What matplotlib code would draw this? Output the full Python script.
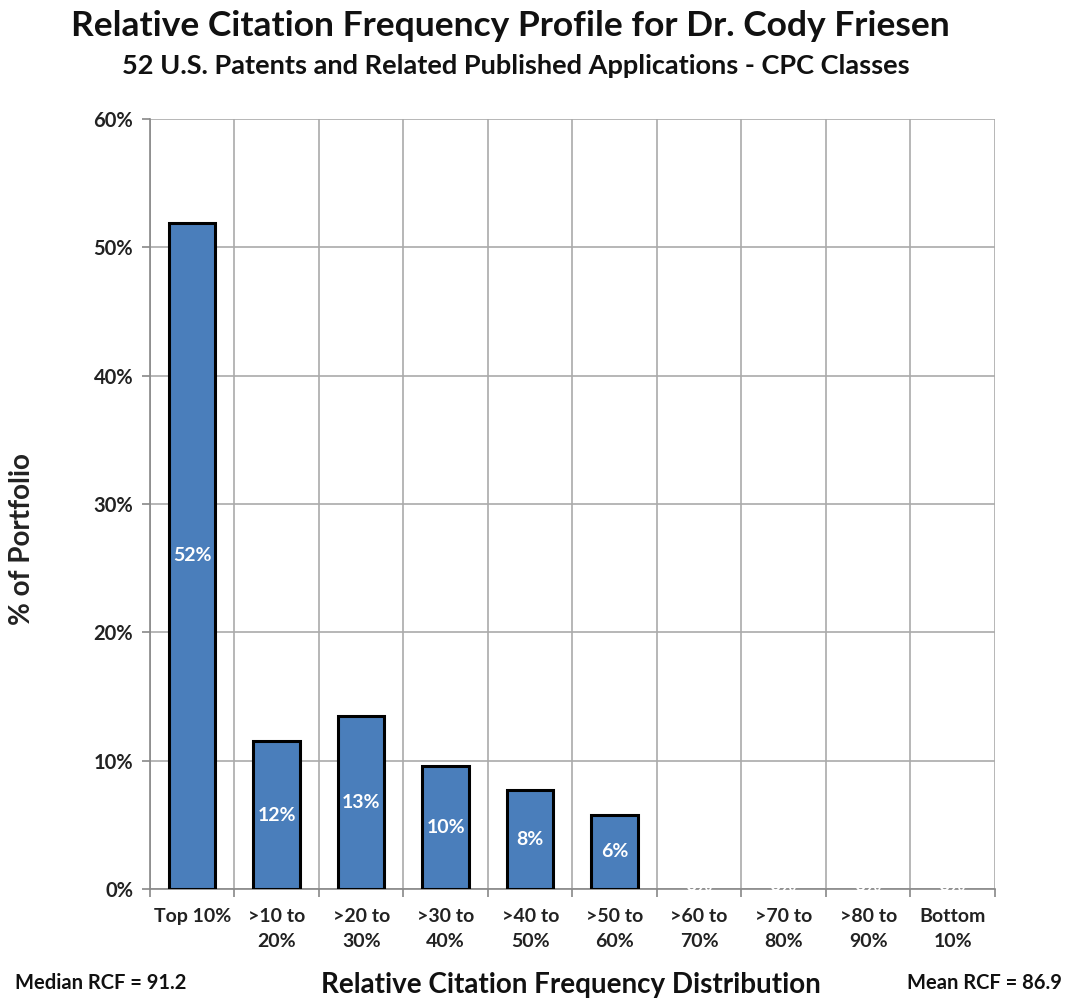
import matplotlib
matplotlib.use("Agg")
import matplotlib.pyplot as plt
from matplotlib.ticker import FuncFormatter

categories = ["Top 10%", ">10 to\n20%", ">20 to\n30%", ">30 to\n40%", ">40 to\n50%",
              ">50 to\n60%", ">60 to\n70%", ">70 to\n80%", ">80 to\n90%", "Bottom\n10%"]
values = [51.9, 11.5, 13.5, 9.6, 7.7, 5.8, 0, 0, 0, 0]
labels = ["52%", "12%", "13%", "10%", "8%", "6%", "0%", "0%", "0%", "0%"]
yticks = [0, 10, 20, 30, 40, 50, 60]

plt.rcParams['font.family'] = ['Lato', 'DejaVu Sans']
fig = plt.figure(figsize=(10.75, 10), dpi=100)
ax = fig.add_axes([0.1395, 0.111, 0.786, 0.770])

x = list(range(len(categories)))
edge_w = [2.2 if v > 0 else 0 for v in values]
bars = ax.bar(x, values, width=0.55, color="#4a7ebb", edgecolor="black", linewidth=edge_w, zorder=3)
for xi, v, lab in zip(x, values, labels):
    ax.text(xi, v / 2 if v > 0 else 0.3, lab, ha="center", va="center", color="white",
            fontsize=14, fontweight="bold", zorder=4)

ax.set_xlim(-0.5, len(categories) - 0.5)
ax.set_ylim(0, 60)
ax.set_yticks(yticks)
ax.yaxis.set_major_formatter(FuncFormatter(lambda v, p: f"{v:.0f}%"))
ax.set_xticks([i - 0.5 for i in range(len(categories) + 1)], minor=False)
ax.set_xticklabels([])
ax.set_xticks(x, minor=True)
ax.set_xticklabels(categories, minor=True, fontsize=14, fontweight="bold", color="#222222",
                   linespacing=1.55)
ax.tick_params(axis="x", which="minor", length=0, pad=14)
ax.tick_params(axis="x", which="major", length=6, color="#888888", width=1.2)
ax.tick_params(axis="y", length=6, color="#888888", width=1.2, labelsize=14.5, pad=6, labelcolor="#222222")
for t in ax.get_yticklabels():
    t.set_fontweight("bold")

ax.grid(True, which="major", color="#aaaaaa", linewidth=1.2, zorder=0)
for s in ["top", "right"]:
    ax.spines[s].set_visible(False)
for s in ["left", "bottom"]:
    ax.spines[s].set_color("#888888")
    ax.spines[s].set_linewidth(1.2)

ax.set_ylabel("% of Portfolio", fontsize=20, fontweight="bold", color="#222222")
ax.yaxis.set_label_coords(-0.136, 0.455)

fig.text(0.475, 0.974, "Relative Citation Frequency Profile for Dr. Cody Friesen",
         ha="center", va="center", fontsize=25.5, fontweight="bold", color="#111111")
fig.text(0.48, 0.934, "52 U.S. Patents and Related Published Applications - CPC Classes",
         ha="center", va="center", fontsize=19.5, fontweight="bold", color="#111111")
fig.text(0.531, 0.015, "Relative Citation Frequency Distribution",
         ha="center", va="center", fontsize=20, fontweight="bold", color="#111111")
fig.text(0.014, 0.017, "Median RCF = 91.2", ha="left", va="center",
         fontsize=14.5, fontweight="bold", color="#111111")
fig.text(0.988, 0.017, "Mean RCF = 86.9", ha="right", va="center",
         fontsize=14.5, fontweight="bold", color="#111111")

fig.savefig("out.png", dpi=100, facecolor="white")
